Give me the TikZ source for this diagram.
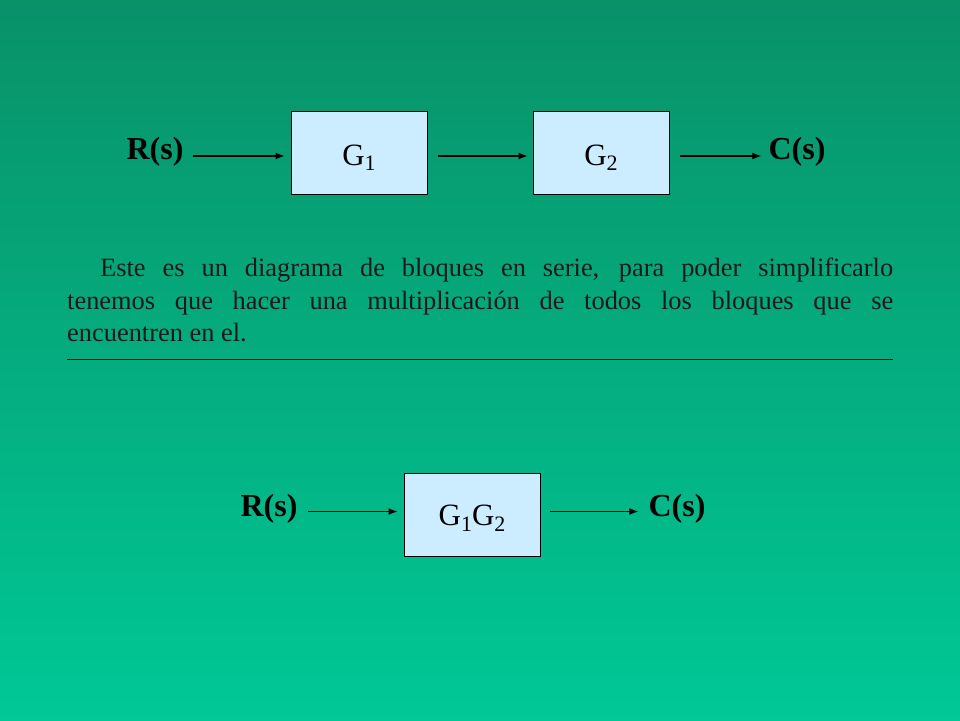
\documentclass[tikz,border=0pt]{standalone}
\usepackage{fontspec}
\setmainfont{Liberation Serif}
\usetikzlibrary{arrows.meta}
\definecolor{bgtop}{RGB}{9,145,104}
\definecolor{bgbot}{RGB}{0,200,150}
\definecolor{boxfill}{RGB}{204,236,255}
\newcommand{\gsub}[1]{G\raisebox{-5.5pt}{\fontsize{22}{24}\selectfont #1}}
\newcommand{\boxtext}[2]{\smash{\raisebox{-#1}{#2}}}
\tikzset{
  blockbox/.style={draw=black,line width=1pt,fill=boxfill,minimum width=136pt,minimum height=83pt,inner sep=0pt,
    font=\fontsize{31}{36}\selectfont},
  sig/.style={font=\fontsize{32}{36}\selectfont\bfseries,inner sep=0pt},
  arr/.style={-{Latex[length=9pt,width=7pt]},line width=1.2pt},
  para/.style={anchor=base west,inner sep=0pt,font=\fontsize{26.4}{33}\selectfont,text=black!90},
}
\begin{document}
\begin{tikzpicture}[x=1pt,y=-1pt]
\useasboundingbox (0,0) rectangle (960,720);
\shade[top color=bgtop,bottom color=bgbot] (0,0) rectangle (960,720);
% top row
\node[sig] (R1) at (155,152) {R(s)};
\node[blockbox] (G1) at (359,152.5) {\boxtext{12.5pt}{\gsub{1}}};
\node[blockbox] (G2) at (601,152.5) {\boxtext{12.5pt}{\gsub{2}}};
\node[sig] (C1) at (797,152) {C(s)};
\draw[arr,shorten <=9pt,shorten >=6pt] ([yshift=-3.5pt]R1.east|-G1.west) -- ([yshift=-3.5pt]G1.west);
\draw[arr,shorten <=10pt,shorten >=5pt] ([yshift=-3.5pt]G1.east) -- ([yshift=-3.5pt]G2.west);
\draw[arr,shorten <=10pt,shorten >=7pt] ([yshift=-3.5pt]G2.east) -- ([yshift=-3.5pt]C1.west|-G2.east);
% paragraph
\node[para] (P1) at (100,276.5) {\makebox[793pt][s]{Este es un diagrama de bloques en serie, para poder simplificarlo}};
\node[para] (P2) at (67,309) {\makebox[826pt][s]{tenemos que hacer una multiplicación de todos los bloques que se}};
\node[para] (P3) at (67,341.5) {encuentren en el.};
\coordinate (L1) at (67,359);
\coordinate (L2) at (893,359);
\draw[line width=1pt] (L1) -- (L2);
% bottom row
\node[sig] (R2) at (269,509) {R(s)};
\node[blockbox] (G12) at (472,515) {\boxtext{10.5pt}{\gsub{1}\gsub{2}}};
\node[sig] (C2) at (677,509) {C(s)};
\draw[arr,shorten <=10pt,shorten >=6pt] ([yshift=3.5pt]R2.east|-G12.west) -- ([yshift=3.5pt]G12.west);
\draw[arr,shorten <=9pt,shorten >=10pt] ([yshift=3.5pt]G12.east) -- ([yshift=3.5pt]C2.west|-G12.east);
\end{tikzpicture}
\end{document}
